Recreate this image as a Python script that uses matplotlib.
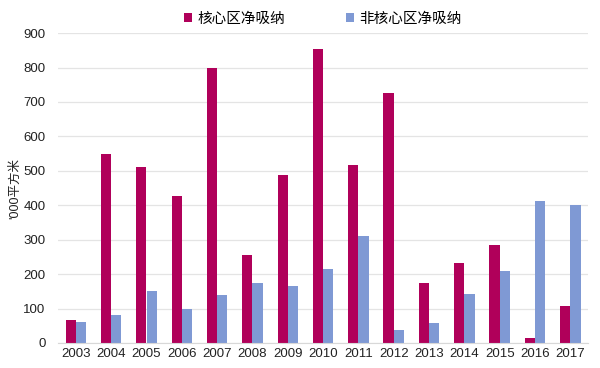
import numpy as np
import matplotlib.pyplot as plt

plt.rcParams['font.family'] = ['Liberation Sans', 'Noto Sans CJK SC', 'DejaVu Sans']

years = ['2003', '2004', '2005', '2006', '2007', '2008', '2009', '2010',
         '2011', '2012', '2013', '2014', '2015', '2016', '2017']
core = [68, 548, 512, 428, 800, 256, 488, 855, 516, 726, 175, 232, 284, 14, 108]
noncore = [62, 82, 150, 98, 140, 174, 165, 216, 310, 37, 59, 143, 208, 412, 400]

fig = plt.figure(figsize=(6, 3.68), dpi=100)
ax = fig.add_axes([0.097, 0.068, 0.883, 0.842])

x = np.arange(len(years))
w = 0.29
ax.bar(x - w / 2, core, w, color='#B0005A', label='核心区净吸纳', zorder=2)
ax.bar(x + w / 2, noncore, w, color='#7F99D4', label='非核心区净吸纳', zorder=2)

ax.set_xlim(-0.5, len(years) - 0.5)
ax.set_ylim(0, 900)
ax.set_yticks(range(0, 901, 100))
ax.set_xticks(x)
ax.set_xticklabels(years)
ax.grid(axis='y', color='#e4e4e4', linewidth=0.9, zorder=0)
for s in ['top', 'right', 'left']:
    ax.spines[s].set_visible(False)
ax.spines['bottom'].set_color('#d8d8d8')
ax.tick_params(length=0, labelsize=9.5, colors='#222222')
ax.tick_params(axis='y', pad=9)
ax.set_ylabel("'000平方米", fontsize=9, color='#222222')
ax.yaxis.set_label_coords(-0.07, 0.5)

ax.legend(loc='lower center', bbox_to_anchor=(0.5, 1.0), ncol=2, frameon=False,
          fontsize=10.5, handlelength=0.5, handleheight=0.5, columnspacing=4.2,
          handletextpad=0.4, borderaxespad=0.1)

fig.savefig('out.png')
